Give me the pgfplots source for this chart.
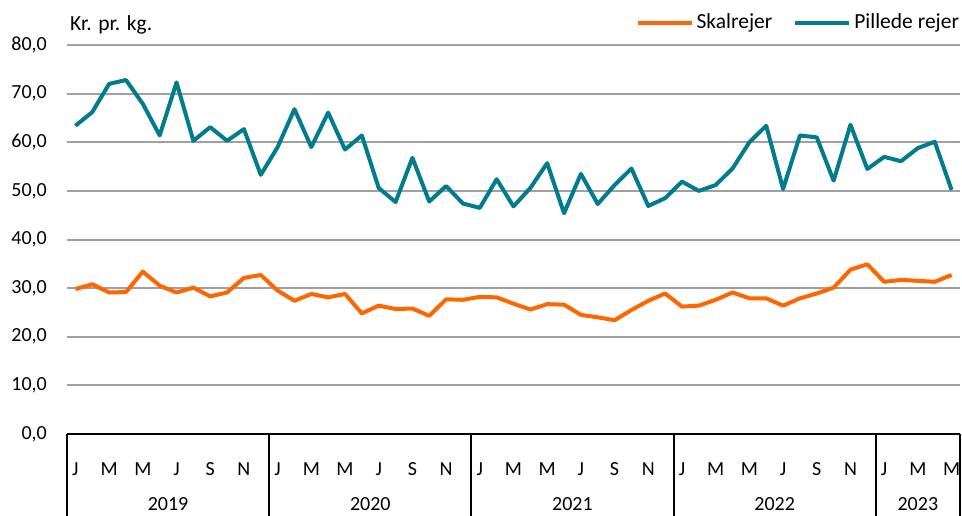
\documentclass[border=0pt]{standalone}
\usepackage{fontspec}
\setmainfont{Carlito}
\usepackage{pgfplots}
\pgfplotsset{compat=1.18}
\usepackage{pgfplotstable}

\definecolor{skal}{RGB}{255,102,0}
\definecolor{pill}{RGB}{0,124,142}
\definecolor{gridgray}{RGB}{160,160,160}

\pgfplotstableread{
i skal pill
0 29.8 63.4
1 30.8 66.2
2 29.1 72.0
3 29.2 72.8
4 33.4 67.9
5 30.5 61.4
6 29.1 72.3
7 30.1 60.3
8 28.3 63.1
9 29.1 60.3
10 32.1 62.7
11 32.7 53.3
12 29.5 59.0
13 27.4 66.8
14 28.8 59.0
15 28.1 66.1
16 28.8 58.5
17 24.8 61.4
18 26.4 50.6
19 25.7 47.7
20 25.8 56.8
21 24.3 47.8
22 27.7 51.0
23 27.6 47.4
24 28.2 46.5
25 28.1 52.4
26 26.8 46.8
27 25.6 50.6
28 26.7 55.7
29 26.6 45.4
30 24.5 53.5
31 24.0 47.3
32 23.4 51.2
33 25.5 54.6
34 27.4 46.9
35 28.9 48.5
36 26.2 51.9
37 26.4 50.0
38 27.6 51.2
39 29.1 54.6
40 27.9 60.0
41 27.9 63.4
42 26.4 50.4
43 27.9 61.4
44 28.9 61.0
45 30.1 52.1
46 33.8 63.6
47 34.9 54.5
48 31.3 57.0
49 31.7 56.1
50 31.5 58.8
51 31.3 60.1
52 32.7 50.2
}\data

\begin{document}
\fontsize{20}{24}\selectfont
\begin{tikzpicture}[font=\fontsize{20}{24}\selectfont]
\useasboundingbox (0,0) rectangle (962pt,515pt);
\begin{axis}[
  at={(67pt,81pt)}, anchor=south west,
  scale only axis, width=893pt, height=389pt,
  xmin=-0.5, xmax=52.5, ymin=0, ymax=80,
  clip=false,
  axis x line*=bottom, axis y line*=left,
  x axis line style={black, line width=2pt, -},
  y axis line style={draw=none},
  major tick length=0pt,
  ytick={0,10,...,80},
  ymajorgrids,
  grid style={gridgray, line width=2pt},
  xtick={0,2,4,6,8,10,12,14,16,18,20,22,24,26,28,30,32,34,36,38,40,42,44,46,48,50,52},
  xticklabels={J,M,M,J,S,N,J,M,M,J,S,N,J,M,M,J,S,N,J,M,M,J,S,N,J,M,M},
  xticklabel style={anchor=base, yshift=-41pt, inner sep=0pt},
  yticklabel style={anchor=east, inner sep=0pt, xshift=-20pt},
  /pgf/number format/.cd, fixed, fixed zerofill, precision=1, use comma, assume math mode=true,
  /pgfplots/.cd,
  legend columns=2,
  legend style={at={(0.6365,1.0566)}, anchor=west, draw=none, fill=none, inner sep=0pt,
    font=\fontsize{21.5}{25}\selectfont,
    nodes={inner sep=3pt},
    /tikz/every even column/.append style={column sep=18pt}},
  legend image code/.code={\draw[#1] (0pt,0pt) -- (54pt,0pt);},
]
\addplot[skal, line width=4pt, line join=round] table[x=i, y=skal] {\data};
\addlegendentry{Skalrejer}
\addplot[pill, line width=4pt, line join=round] table[x=i, y=pill] {\data};
\addlegendentry{Pillede rejer}

\pgfplotsinvokeforeach{-0.5,11.5,23.5,35.5,47.5,52.5}{
  \draw[black, line width=2pt] (axis cs:#1,0) -- (axis cs:#1,-16.8);
}
\node[anchor=base, inner sep=0pt] at (axis cs:5.5,0) [yshift=-76pt] {2019};
\node[anchor=base, inner sep=0pt] at (axis cs:17.5,0) [yshift=-76pt] {2020};
\node[anchor=base, inner sep=0pt] at (axis cs:29.5,0) [yshift=-76pt] {2021};
\node[anchor=base, inner sep=0pt] at (axis cs:41.5,0) [yshift=-76pt] {2022};
\node[anchor=base, inner sep=0pt] at (axis cs:50,0) [yshift=-76pt] {2023};
\node[anchor=base west, inner sep=0pt, font=\fontsize{21.5}{25}\selectfont] at (rel axis cs:0.0034,1) [yshift=14.3pt] {Kr. pr. kg.};
\end{axis}
\end{tikzpicture}
\end{document}
